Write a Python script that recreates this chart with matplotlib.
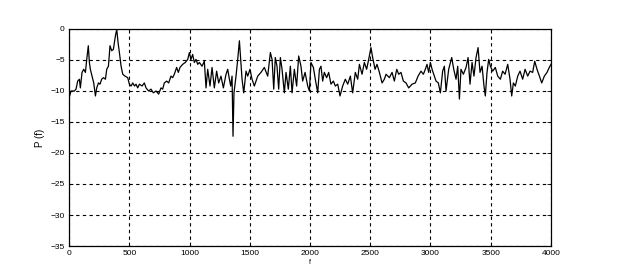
import matplotlib
matplotlib.use("Agg")
import matplotlib.pyplot as plt

# spectrum, f in Hz-ish units, P in dB
freq = [0, 17, 44, 58, 72, 86, 94, 108, 122, 136, 147, 160, 169, 177, 191, 205, 219, 230, 244, 257,
        271, 285, 302, 313, 327, 340, 354, 368, 385, 396, 407, 418, 432, 446, 465, 487, 501, 515, 529, 543,
        556, 570, 584, 606, 625,
        639, 661, 680, 700, 722, 744, 763, 777, 791, 810, 827, 846, 860, 874, 893, 907, 921, 943, 965, 985,
        999, 1012, 1026, 1040, 1054, 1068, 1082, 1104, 1123, 1137, 1151, 1170, 1187, 1206, 1225, 1242, 1261,
        1281, 1303,
        1317, 1331, 1342, 1353, 1361, 1369, 1386, 1400, 1414, 1425, 1436, 1450, 1469, 1483, 1502, 1519, 1538,
        1566, 1593, 1621, 1649, 1671, 1685, 1699, 1712, 1726, 1740, 1754, 1768, 1787, 1801, 1820, 1837, 1851,
        1870, 1889, 1906, 1925, 1939, 1959, 1981,
        1995, 2008, 2028, 2044, 2064, 2078, 2091, 2105, 2119, 2138, 2155, 2174, 2194, 2210, 2230, 2249, 2271,
        2293, 2313, 2335, 2354, 2376, 2396, 2410, 2432, 2451, 2470, 2487, 2506, 2520, 2540, 2556, 2576, 2598,
        2617,
        2631, 2659, 2681, 2700, 2720, 2736, 2755, 2775, 2797, 2819, 2847, 2874, 2897, 2921, 2941, 2957, 2971,
        2985, 2999, 3013, 3032, 3046, 3065, 3082, 3101, 3115, 3129, 3151, 3176, 3193, 3212, 3226, 3240, 3253,
        3273, 3295,
        3312, 3328, 3345, 3361, 3378, 3395, 3411, 3428, 3444, 3455, 3469, 3483, 3497, 3516, 3538, 3558, 3580,
        3599, 3619, 3641, 3660, 3674, 3688, 3704, 3724, 3743, 3765, 3785, 3807, 3826, 3848, 3865, 3884, 3904,
        3923, 3945, 3967, 3986, 4000]
power = [-11.1, -10.0, -10.0, -9.7, -8.4, -8.1, -9.5, -7.0, -6.5, -7.0, -4.9, -2.7, -5.4, -6.5, -7.6, -8.7,
         -10.8, -9.5, -8.7, -8.9, -8.1, -7.85, -8.1, -6.5, -6.0, -2.7, -3.5, -3.3, -1.1, -0.05, -2.2, -3.8,
         -6.0, -7.3, -7.6, -7.85, -8.9, -9.2, -8.7, -9.2, -8.9, -9.5, -8.9, -9.2, -8.7,
         -9.5, -10.0, -9.7, -10.3, -10.0, -10.5, -9.5, -9.7, -8.7, -8.4, -8.7, -7.6, -7.85, -7.3, -6.2, -7.0,
         -6.2, -5.7, -5.4, -4.9, -3.8, -4.9, -4.1, -5.4, -4.9, -5.7, -5.4, -6.0, -5.2, -9.5, -6.5, -9.2, -6.2,
         -9.5, -6.8, -8.7, -7.6, -9.5, -7.3,
         -6.5, -8.1, -9.2, -7.6, -17.3, -10.3, -7.6, -4.9, -1.9, -4.9, -8.1, -10.3, -6.8, -7.6, -6.5, -8.1,
         -9.2, -7.6, -7.0, -6.2, -7.6, -3.8, -4.9, -9.7, -4.6, -6.0, -9.7, -4.6, -6.5, -10.3, -7.0, -9.7,
         -6.0, -10.3, -6.5, -9.2, -4.35, -6.0, -8.4, -7.0, -9.2,
         -10.0, -5.4, -6.2, -8.1, -10.3, -6.5, -6.0, -8.4, -7.0, -7.85, -7.0, -8.9, -8.4, -9.2, -8.9, -10.8,
         -9.2, -8.1, -8.9, -7.6, -10.3, -7.0, -8.1, -5.7, -7.3, -5.4, -6.5, -4.9, -3.0, -4.6, -6.5, -5.7,
         -7.0, -8.7, -8.1,
         -7.3, -7.85, -7.0, -8.4, -6.5, -7.3, -7.0, -8.4, -8.7, -9.5, -8.9, -8.7, -7.6, -6.8, -7.3, -6.5,
         -5.7, -7.0, -5.4, -6.5, -7.6, -8.4, -8.7, -10.3, -6.8, -6.0, -10.0, -6.5, -4.6, -6.5, -8.1, -6.0,
         -11.3, -6.5, -7.3, -6.2,
         -4.6, -8.9, -5.4, -7.6, -4.6, -3.0, -7.0, -6.0, -9.2, -10.8, -7.0, -4.9, -6.0, -6.8, -6.2, -7.6,
         -8.1, -6.8, -7.3, -5.7, -8.1, -10.8, -8.7, -9.2, -7.6, -6.8, -8.1, -6.5, -7.6, -6.8, -7.0, -5.2,
         -6.5, -7.6, -8.7, -7.6, -7.0, -6.2, -5.7]

xticks = [0, 500, 1000, 1500, 2000, 2500, 3000, 3500, 4000]
yticks = [-35, -30, -25, -20, -15, -10, -5, 0]

plt.rcParams['font.family'] = ['Liberation Sans Narrow', 'Liberation Sans', 'DejaVu Sans']

fig = plt.figure(figsize=(6.23, 2.69), dpi=100)
ax = fig.add_axes([0.1108, 0.0855, 0.7736, 0.8067])

ax.plot(freq, power, color='black', linewidth=0.9)

ax.set_xlim(0, 4000)
ax.set_ylim(-35, 0)
ax.set_xticks(xticks)
ax.set_yticks(yticks)
ax.tick_params(direction='in', length=3, width=0.6, labelsize=6, pad=3,
               top=True, right=True)
ax.grid(True, color='black', linestyle=(0, (3, 3)), linewidth=0.8)
for s in ax.spines.values():
    s.set_linewidth(0.9)

ax.set_xlabel('f', fontsize=5, labelpad=1)
ax.set_ylabel('P (f)', fontsize=7, labelpad=4)

fig.savefig('out.png', dpi=100)
